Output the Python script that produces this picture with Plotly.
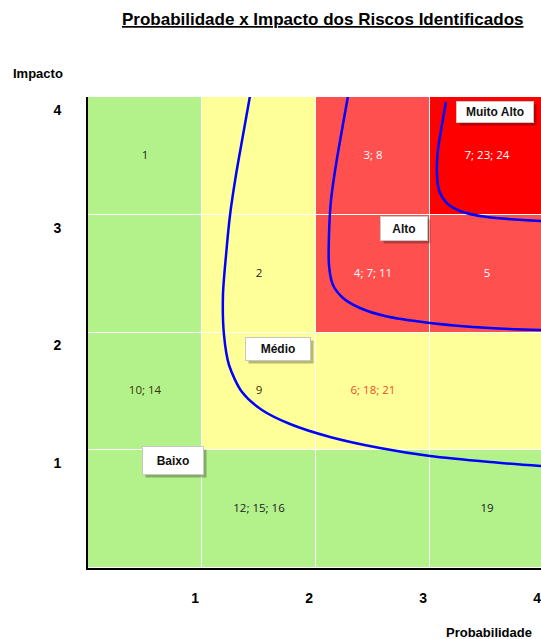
import plotly.graph_objects as go

# ---- data ----
prob_levels = [1, 2, 3, 4]
impact_levels = [1, 2, 3, 4]
tick_labels = ["1", "2", "3", "4"]
# risk level per cell (rows: impact 1..4, cols: probability 1..4)
# 0 = Baixo, 1 = Médio, 2 = Alto, 3 = Muito Alto
risk_matrix = [
    [0, 0, 0, 0],
    [0, 1, 1, 1],
    [0, 1, 2, 2],
    [0, 1, 2, 3],
]
# risks identified in each cell (probability, impact, ids)
cell_prob = [1, 3, 4, 2, 3, 4, 1, 2, 3, 2, 4]
cell_impact = [4, 4, 4, 3, 3, 3, 2, 2, 2, 1, 1]
cell_ids = ["1", "3; 8", "7; 23; 24", "2", "4; 7; 11", "5",
            "10; 14", "9", "6; 18; 21", "12; 15; 16", "19"]
cell_text_colors = ["#222222", "white", "white", "#222222", "white", "white",
                    "#333300", "#333300", "#F04B2F", "#222222", "#222222"]

# iso-risk boundary curves (probability, impact)
curve_baixo_x = [1.421, 1.360, 1.298, 1.246, 1.211, 1.184, 1.193, 1.237, 1.351, 1.526,
                 1.772, 2.123, 2.561, 3.0, 3.526, 3.974]
curve_baixo_y = [4.008, 3.677, 3.338, 2.998, 2.658, 2.318, 1.979, 1.724, 1.494, 1.342,
                 1.223, 1.113, 1.019, 0.951, 0.900, 0.866]
curve_medio_x = [2.281, 2.228, 2.175, 2.132, 2.114, 2.114, 2.149, 2.237, 2.386, 2.605,
                 3.0, 3.526, 3.974]
curve_medio_y = [4.008, 3.720, 3.423, 3.126, 2.828, 2.573, 2.403, 2.293, 2.208, 2.140,
                 2.081, 2.038, 2.021]
curve_alto_x = [3.14, 3.105, 3.070, 3.061, 3.079, 3.140, 3.263, 3.500, 3.974]
curve_alto_y = [3.958, 3.762, 3.550, 3.355, 3.210, 3.108, 3.032, 2.981, 2.947]

zone_names = ["Muito Alto", "Alto", "Médio", "Baixo"]
zone_x = [3.57, 2.77, 1.667, 0.746]
zone_y = [3.873, 2.88, 1.86, 0.917]
zone_w = [76, 46, 64, 60]
zone_h = [20, 23, 22, 27]

GREEN = "#B3F28B"
YELLOW = "#FFFF99"
LRED = "#FF5050"
DRED = "#FF0000"
FONT = "Liberation Sans, Arial, sans-serif"

fig = go.Figure()

fig.add_trace(go.Heatmap(
    x=[p - 0.5 for p in prob_levels],
    y=[i - 0.5 for i in impact_levels],
    z=risk_matrix,
    zmin=0, zmax=3,
    colorscale=[[0, GREEN], [0.166, GREEN], [0.167, YELLOW], [0.5, YELLOW],
                [0.5, LRED], [0.833, LRED], [0.834, DRED], [1, DRED]],
    showscale=False, xgap=1, ygap=1, hoverinfo="skip",
))

for cx, cy in [(curve_baixo_x, curve_baixo_y), (curve_medio_x, curve_medio_y),
               (curve_alto_x, curve_alto_y)]:
    fig.add_trace(go.Scatter(
        x=cx, y=cy, mode="lines",
        line=dict(color="#0000FF", width=2.5, shape="spline", smoothing=0.8),
        hoverinfo="skip", showlegend=False,
    ))

fig.add_trace(go.Scatter(
    x=[p - 0.5 for p in cell_prob], y=[i - 0.5 for i in cell_impact],
    text=cell_ids, mode="text",
    textfont=dict(family="Open Sans, Liberation Sans, sans-serif", size=11.5,
                  color=cell_text_colors),
    hoverinfo="skip", showlegend=False,
))

annotations = []
for name, zx, zy, w, h in zip(zone_names, zone_x, zone_y, zone_w, zone_h):
    annotations.append(dict(
        x=zx, y=zy, xref="x", yref="y", text=" ", showarrow=False,
        width=w, height=h, bgcolor="rgba(0,0,0,0.28)", borderpad=0,
        xshift=3, yshift=-3,
    ))
    annotations.append(dict(
        x=zx, y=zy, xref="x", yref="y", text="<b>" + name + "</b>", showarrow=False,
        width=w, height=h, bgcolor="white", bordercolor="#C8C8C8", borderwidth=1,
        borderpad=0,
        font=dict(family=FONT, size=12, color="#111111"),
    ))

# pixel -> paper helpers for free text
pw = 541 - 88
ph = 639 - 97 - 71
def px(x):
    return (x - 88) / pw
def py(y):
    return (639 - 71 - y) / ph

annotations.append(dict(
    x=px(322), y=py(19), xref="paper", yref="paper", xanchor="center", yanchor="middle",
    text="<b><u>Probabilidade x Impacto dos Riscos Identificados</u></b>",
    showarrow=False, font=dict(family=FONT, size=17, color="black"),
))
annotations.append(dict(
    x=px(38), y=py(73), xref="paper", yref="paper", xanchor="center", yanchor="middle",
    text="<b>Impacto</b>", showarrow=False,
    font=dict(family=FONT, size=13, color="black"),
))
annotations.append(dict(
    x=px(489), y=py(632), xref="paper", yref="paper", xanchor="center", yanchor="middle",
    text="<b>Probabilidade</b>", showarrow=False,
    font=dict(family=FONT, size=13, color="black"),
))

fig.update_layout(
    width=541, height=639,
    margin=dict(l=88, r=0, t=97, b=71),
    paper_bgcolor="white", plot_bgcolor="white",
    showlegend=False,
    annotations=annotations,
    xaxis=dict(range=[0, 3.974], showgrid=False, zeroline=False,
               showline=True, linecolor="black", linewidth=2,
               tickvals=[p - 0.06 for p in prob_levels], ticktext=tick_labels,
               ticks="", ticklabelstandoff=16, ticklabeloverflow="allow",
               tickfont=dict(family=FONT, size=14, color="black", weight="bold"),
               fixedrange=True),
    yaxis=dict(range=[0, 4], showgrid=False, zeroline=False,
               showline=True, linecolor="black", linewidth=2,
               tickvals=[i - 0.11 for i in impact_levels], ticktext=tick_labels,
               ticks="", ticklabelstandoff=22, ticklabeloverflow="allow",
               tickfont=dict(family=FONT, size=14, color="black", weight="bold"),
               fixedrange=True),
)

fig.write_html("out.html", config={"displayModeBar": False})
